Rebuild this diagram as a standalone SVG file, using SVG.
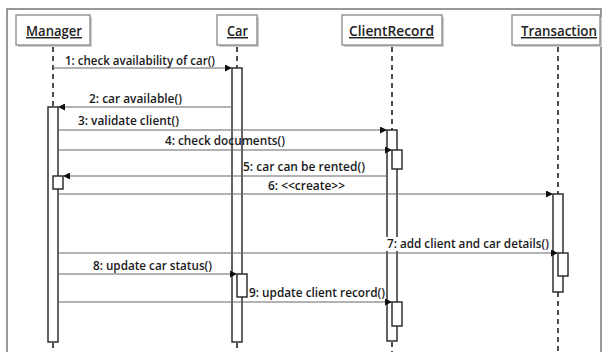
<svg xmlns="http://www.w3.org/2000/svg" width="603" height="352" viewBox="0 0 603 352">
  <defs>
    <marker id="arrow" viewBox="0 0 10 10" refX="10" refY="5" markerWidth="8" markerHeight="7" markerUnits="userSpaceOnUse" orient="auto">
      <path d="M0,0 L10,5 L0,10 z" fill="#111"/>
    </marker>
  </defs>
  <style>
    .frame { fill: none; stroke: #777; stroke-width: 1.5; }
    .head { fill: #fff; stroke: #888; stroke-width: 1.3; }
    .shadow { fill: #ccc; }
    .title { font-family: "Open Sans", "Liberation Sans", sans-serif; font-size: 14.5px; font-weight: 600; fill: #222; text-decoration: underline; }
    .life { stroke: #222; stroke-width: 1.6; stroke-dasharray: 5 4; fill: none; }
    .act { fill: #fff; stroke: #222; stroke-width: 1.4; }
    .msg { stroke: #666; stroke-width: 1.1; fill: none; marker-end: url(#arrow); }
    .lbl { font-family: "Open Sans", "Liberation Sans", sans-serif; font-size: 12.5px; font-weight: 600; fill: #1a1a1a; }
    .bg { fill: #fff; }
  </style>

  <rect class="frame" x="7" y="9" width="594" height="360"/>

  <!-- lifelines -->
  <g id="manager">
    <rect class="shadow" x="18" y="17" width="74" height="30"/>
    <rect class="head" x="16" y="15" width="74" height="30"/>
    <text class="title" x="26" y="36" textLength="56" lengthAdjust="spacingAndGlyphs">Manager</text>
    <line class="life" x1="53" y1="47" x2="53" y2="107"/>
    <line class="life" x1="53" y1="343" x2="53" y2="352"/>
    <rect class="act" x="48" y="107" width="10" height="235"/>
    <rect class="act" x="53" y="176" width="10" height="13"/>
  </g>

  <g id="car">
    <rect class="shadow" x="219" y="17" width="40" height="30"/>
    <rect class="head" x="217" y="15" width="40" height="30"/>
    <text class="title" x="227" y="36" textLength="21" lengthAdjust="spacingAndGlyphs">Car</text>
    <line class="life" x1="237" y1="47" x2="237" y2="68"/>
    <line class="life" x1="237" y1="343" x2="237" y2="352"/>
    <rect class="act" x="232" y="68" width="10" height="274"/>
    <rect class="act" x="237" y="274" width="10" height="23"/>
  </g>

  <g id="clientrecord">
    <rect class="shadow" x="344" y="17" width="100" height="30"/>
    <rect class="head" x="342" y="15" width="100" height="30"/>
    <text class="title" x="349" y="36" textLength="85" lengthAdjust="spacingAndGlyphs">ClientRecord</text>
    <line class="life" x1="392" y1="47" x2="392" y2="130"/>
    <line class="life" x1="392" y1="342" x2="392" y2="352"/>
    <rect class="act" x="387" y="130" width="10" height="211"/>
    <rect class="act" x="392" y="150" width="10" height="19"/>
    <rect class="act" x="392" y="302" width="10" height="24"/>
  </g>

  <g id="transaction">
    <rect class="shadow" x="514" y="17" width="88" height="30"/>
    <rect class="head" x="512" y="15" width="88" height="30"/>
    <text class="title" x="521" y="36" textLength="76" lengthAdjust="spacingAndGlyphs">Transaction</text>
    <line class="life" x1="558" y1="47" x2="558" y2="194"/>
    <line class="life" x1="558" y1="292" x2="558" y2="352"/>
    <rect class="act" x="553" y="194" width="10" height="98"/>
    <rect class="act" x="558" y="253" width="10" height="23"/>
  </g>

  <!-- messages -->
  <g id="messages">
    <line class="msg" x1="53" y1="68" x2="232" y2="68"/>
    <rect class="bg" x="64" y="54" width="152" height="13"/>
    <text class="lbl" x="65" y="65" textLength="150" lengthAdjust="spacingAndGlyphs">1: check availability of car()</text>

    <line class="msg" x1="232" y1="107" x2="58" y2="107"/>
    <text class="lbl" x="89" y="103" textLength="93" lengthAdjust="spacingAndGlyphs">2: car available()</text>

    <line class="msg" x1="58" y1="130" x2="387" y2="130"/>
    <text class="lbl" x="78" y="125" textLength="101" lengthAdjust="spacingAndGlyphs">3: validate client()</text>

    <line class="msg" x1="58" y1="150" x2="392" y2="150"/>
    <text class="lbl" x="165" y="145" textLength="120" lengthAdjust="spacingAndGlyphs">4: check documents()</text>

    <line class="msg" x1="387" y1="176" x2="63" y2="176"/>
    <text class="lbl" x="243" y="171" textLength="122" lengthAdjust="spacingAndGlyphs">5: car can be rented()</text>

    <line class="msg" x1="58" y1="194" x2="553" y2="194"/>
    <text class="lbl" x="268" y="190" textLength="77" lengthAdjust="spacingAndGlyphs">6: &lt;&lt;create&gt;&gt;</text>

    <line class="msg" x1="58" y1="253" x2="558" y2="253"/>
    <rect class="bg" x="386" y="237" width="164" height="14"/>
    <text class="lbl" x="387" y="248" textLength="162" lengthAdjust="spacingAndGlyphs">7: add client and car details()</text>

    <line class="msg" x1="58" y1="274" x2="237" y2="274"/>
    <text class="lbl" x="93" y="270" textLength="119" lengthAdjust="spacingAndGlyphs">8: update car status()</text>

    <line class="msg" x1="58" y1="302" x2="392" y2="302"/>
    <text class="lbl" x="249" y="297" textLength="136" lengthAdjust="spacingAndGlyphs">9: update client record()</text>
  </g>
</svg>
